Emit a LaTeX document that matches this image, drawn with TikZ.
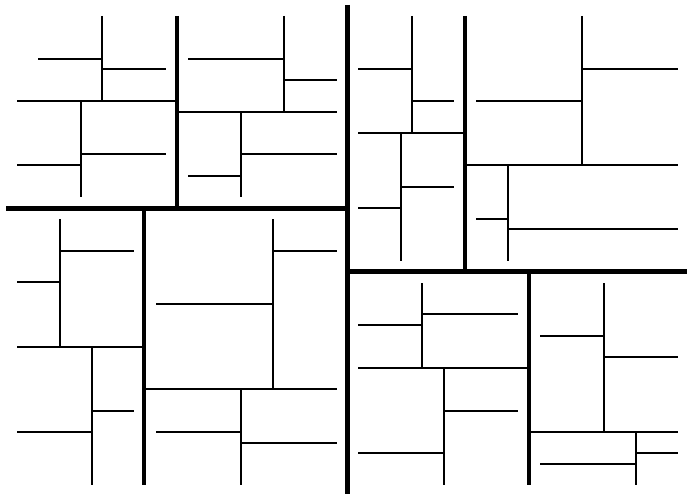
\documentclass[tikz,border=0pt]{standalone}
\begin{document}
\begin{tikzpicture}[
  x=1pt, y=-1pt,
  cutA/.style={line width=5pt},
  cutB/.style={line width=3.2pt},
  cutC/.style={line width=2.9pt},
  cutD/.style={line width=2.2pt},
  cutE/.style={line width=2pt},
]
\useasboundingbox (0,0) rectangle (687,495);

% ---------- first cuts ----------
\draw[cutA] (347,5) -- (347,494);
\draw[cutA] (6,208) -- (347,208);
\draw[cutA] (347,271) -- (687,271);

% ---------- top left ----------
\draw[cutB] (177,16) -- (177,208);
\draw[cutC] (17,101) -- (177,101);
\draw[cutD] (102,16) -- (102,101);
\draw[cutE] (38,59) -- (102,59);
\draw[cutE] (102,69) -- (166,69);
\draw[cutD] (81,101) -- (81,197);
\draw[cutE] (17,165) -- (81,165);
\draw[cutE] (81,154) -- (166,154);
\draw[cutC] (177,112) -- (337,112);
\draw[cutD] (284,16) -- (284,112);
\draw[cutE] (188,59) -- (284,59);
\draw[cutE] (284,80) -- (337,80);
\draw[cutD] (241,112) -- (241,197);
\draw[cutE] (188,176) -- (241,176);
\draw[cutE] (241,154) -- (337,154);

% ---------- top right ----------
\draw[cutB] (465,16) -- (465,271);
\draw[cutC] (358,133) -- (465,133);
\draw[cutD] (412,16) -- (412,133);
\draw[cutE] (358,69) -- (412,69);
\draw[cutE] (412,101) -- (454,101);
\draw[cutD] (401,133) -- (401,261);
\draw[cutE] (358,208) -- (401,208);
\draw[cutE] (401,187) -- (454,187);
\draw[cutC] (465,165) -- (678,165);
\draw[cutD] (582,16) -- (582,165);
\draw[cutE] (476,101) -- (582,101);
\draw[cutE] (582,69) -- (678,69);
\draw[cutD] (508,165) -- (508,261);
\draw[cutE] (476,219) -- (508,219);
\draw[cutE] (508,229) -- (678,229);

% ---------- bottom left ----------
\draw[cutB] (144,208) -- (144,485);
\draw[cutC] (17,347) -- (144,347);
\draw[cutD] (60,219) -- (60,347);
\draw[cutE] (17,282) -- (60,282);
\draw[cutE] (60,251) -- (134,251);
\draw[cutD] (92,347) -- (92,485);
\draw[cutE] (17,432) -- (92,432);
\draw[cutE] (92,411) -- (134,411);
\draw[cutC] (144,389) -- (337,389);
\draw[cutD] (273,219) -- (273,389);
\draw[cutE] (156,304) -- (273,304);
\draw[cutE] (273,251) -- (337,251);
\draw[cutD] (241,389) -- (241,485);
\draw[cutE] (156,432) -- (241,432);
\draw[cutE] (241,443) -- (337,443);

% ---------- bottom right ----------
\draw[cutB] (529,271) -- (529,485);
\draw[cutC] (358,368) -- (529,368);
\draw[cutD] (422,283) -- (422,368);
\draw[cutE] (358,325) -- (422,325);
\draw[cutE] (422,314) -- (518,314);
\draw[cutD] (444,368) -- (444,485);
\draw[cutE] (358,453) -- (444,453);
\draw[cutE] (444,411) -- (518,411);
\draw[cutC] (529,432) -- (678,432);
\draw[cutD] (604,283) -- (604,432);
\draw[cutE] (540,336) -- (604,336);
\draw[cutE] (604,357) -- (678,357);
\draw[cutD] (636,432) -- (636,485);
\draw[cutE] (540,464) -- (636,464);
\draw[cutE] (636,453) -- (678,453);
\end{tikzpicture}
\end{document}
